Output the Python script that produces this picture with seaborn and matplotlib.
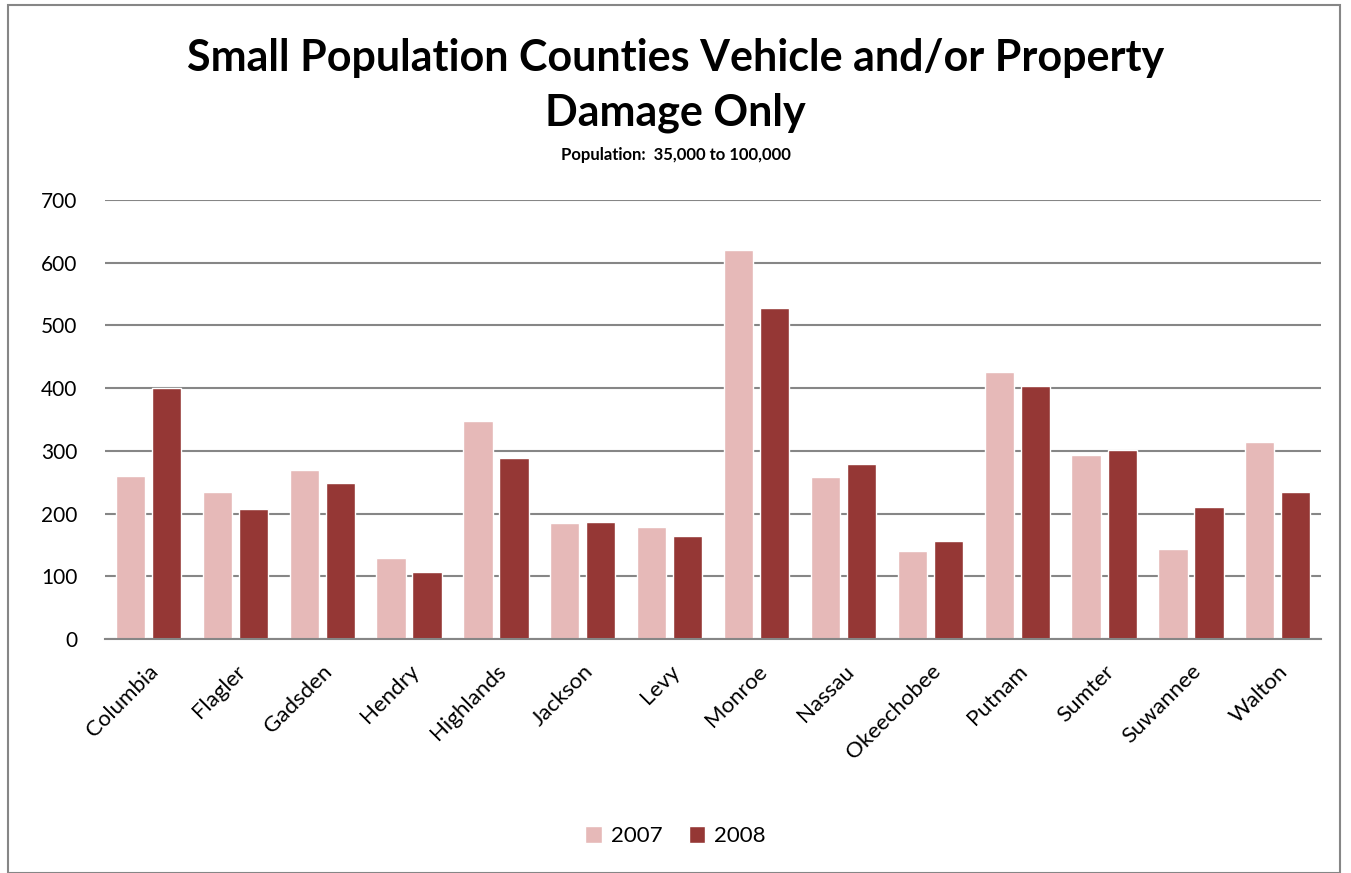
import matplotlib
matplotlib.use("Agg")
import matplotlib.pyplot as plt
import seaborn as sns
import pandas as pd
from matplotlib.patches import Rectangle

counties = ["Columbia", "Flagler", "Gadsden", "Hendry", "Highlands", "Jackson", "Levy",
            "Monroe", "Nassau", "Okeechobee", "Putnam", "Sumter", "Suwannee", "Walton"]
vals_2007 = [260, 235, 269, 129, 347, 185, 179, 620, 258, 141, 426, 294, 144, 314]
vals_2008 = [400, 207, 248, 107, 289, 186, 165, 527, 279, 157, 404, 301, 211, 235]
years = ["2007", "2008"]
colors = ["#E6B9B8", "#953735"]

df = pd.DataFrame({
    "county": counties * 2,
    "count": vals_2007 + vals_2008,
    "year": [years[0]] * len(counties) + [years[1]] * len(counties),
})

sns.set_style("white")
plt.rcParams["font.family"] = ["Lato", "DejaVu Sans"]
plt.rcParams["text.color"] = "black"
plt.rcParams["xtick.color"] = "black"
plt.rcParams["ytick.color"] = "black"

fig = plt.figure(figsize=(13.51, 8.73), dpi=100)
ax = fig.add_axes([0.0777, 0.268, 0.9003, 0.503])

sns.barplot(data=df, x="county", y="count", hue="year", palette=colors,
            width=0.83, gap=0.19, saturation=1, ax=ax, legend=True)

ax.set_ylim(0, 700)
ax.set_yticks(range(0, 701, 100))
ax.set_xlim(-0.5, len(counties) - 0.5)
ax.yaxis.grid(True, color="#868686", linewidth=1.5)
ax.set_axisbelow(True)
for s in ["left", "right", "top"]:
    ax.spines[s].set_visible(False)
ax.spines["bottom"].set_color("#868686")
ax.spines["bottom"].set_linewidth(1.5)
ax.set_xlabel("")
ax.set_ylabel("")
ax.tick_params(axis="y", labelsize=15, length=0, pad=20)
ax.tick_params(axis="x", labelsize=16, length=0, pad=16)
plt.setp(ax.get_xticklabels(), rotation=45, ha="right", rotation_mode="anchor")

handles, labels = ax.get_legend_handles_labels()
ax.legend_.remove()
fig.legend(handles, labels, loc="center", bbox_to_anchor=(0.5, 0.042), ncol=2,
           frameon=False, fontsize=16, handlelength=0.75, handleheight=0.75,
           columnspacing=1.2, handletextpad=0.4)

fig.text(0.5, 0.902, "Small Population Counties Vehicle and/or Property\nDamage Only",
         ha="center", va="center", fontsize=31, fontweight="bold", linespacing=1.45)
fig.text(0.5, 0.822, "Population:  35,000 to 100,000", ha="center", va="center",
         fontsize=12, fontweight="bold")

fig.patches.append(Rectangle((0.006, 0.0), 0.986, 0.994, transform=fig.transFigure,
                             fill=False, edgecolor="#868686", linewidth=1.5))

fig.savefig("out.png", dpi=100)
plt.close(fig)
